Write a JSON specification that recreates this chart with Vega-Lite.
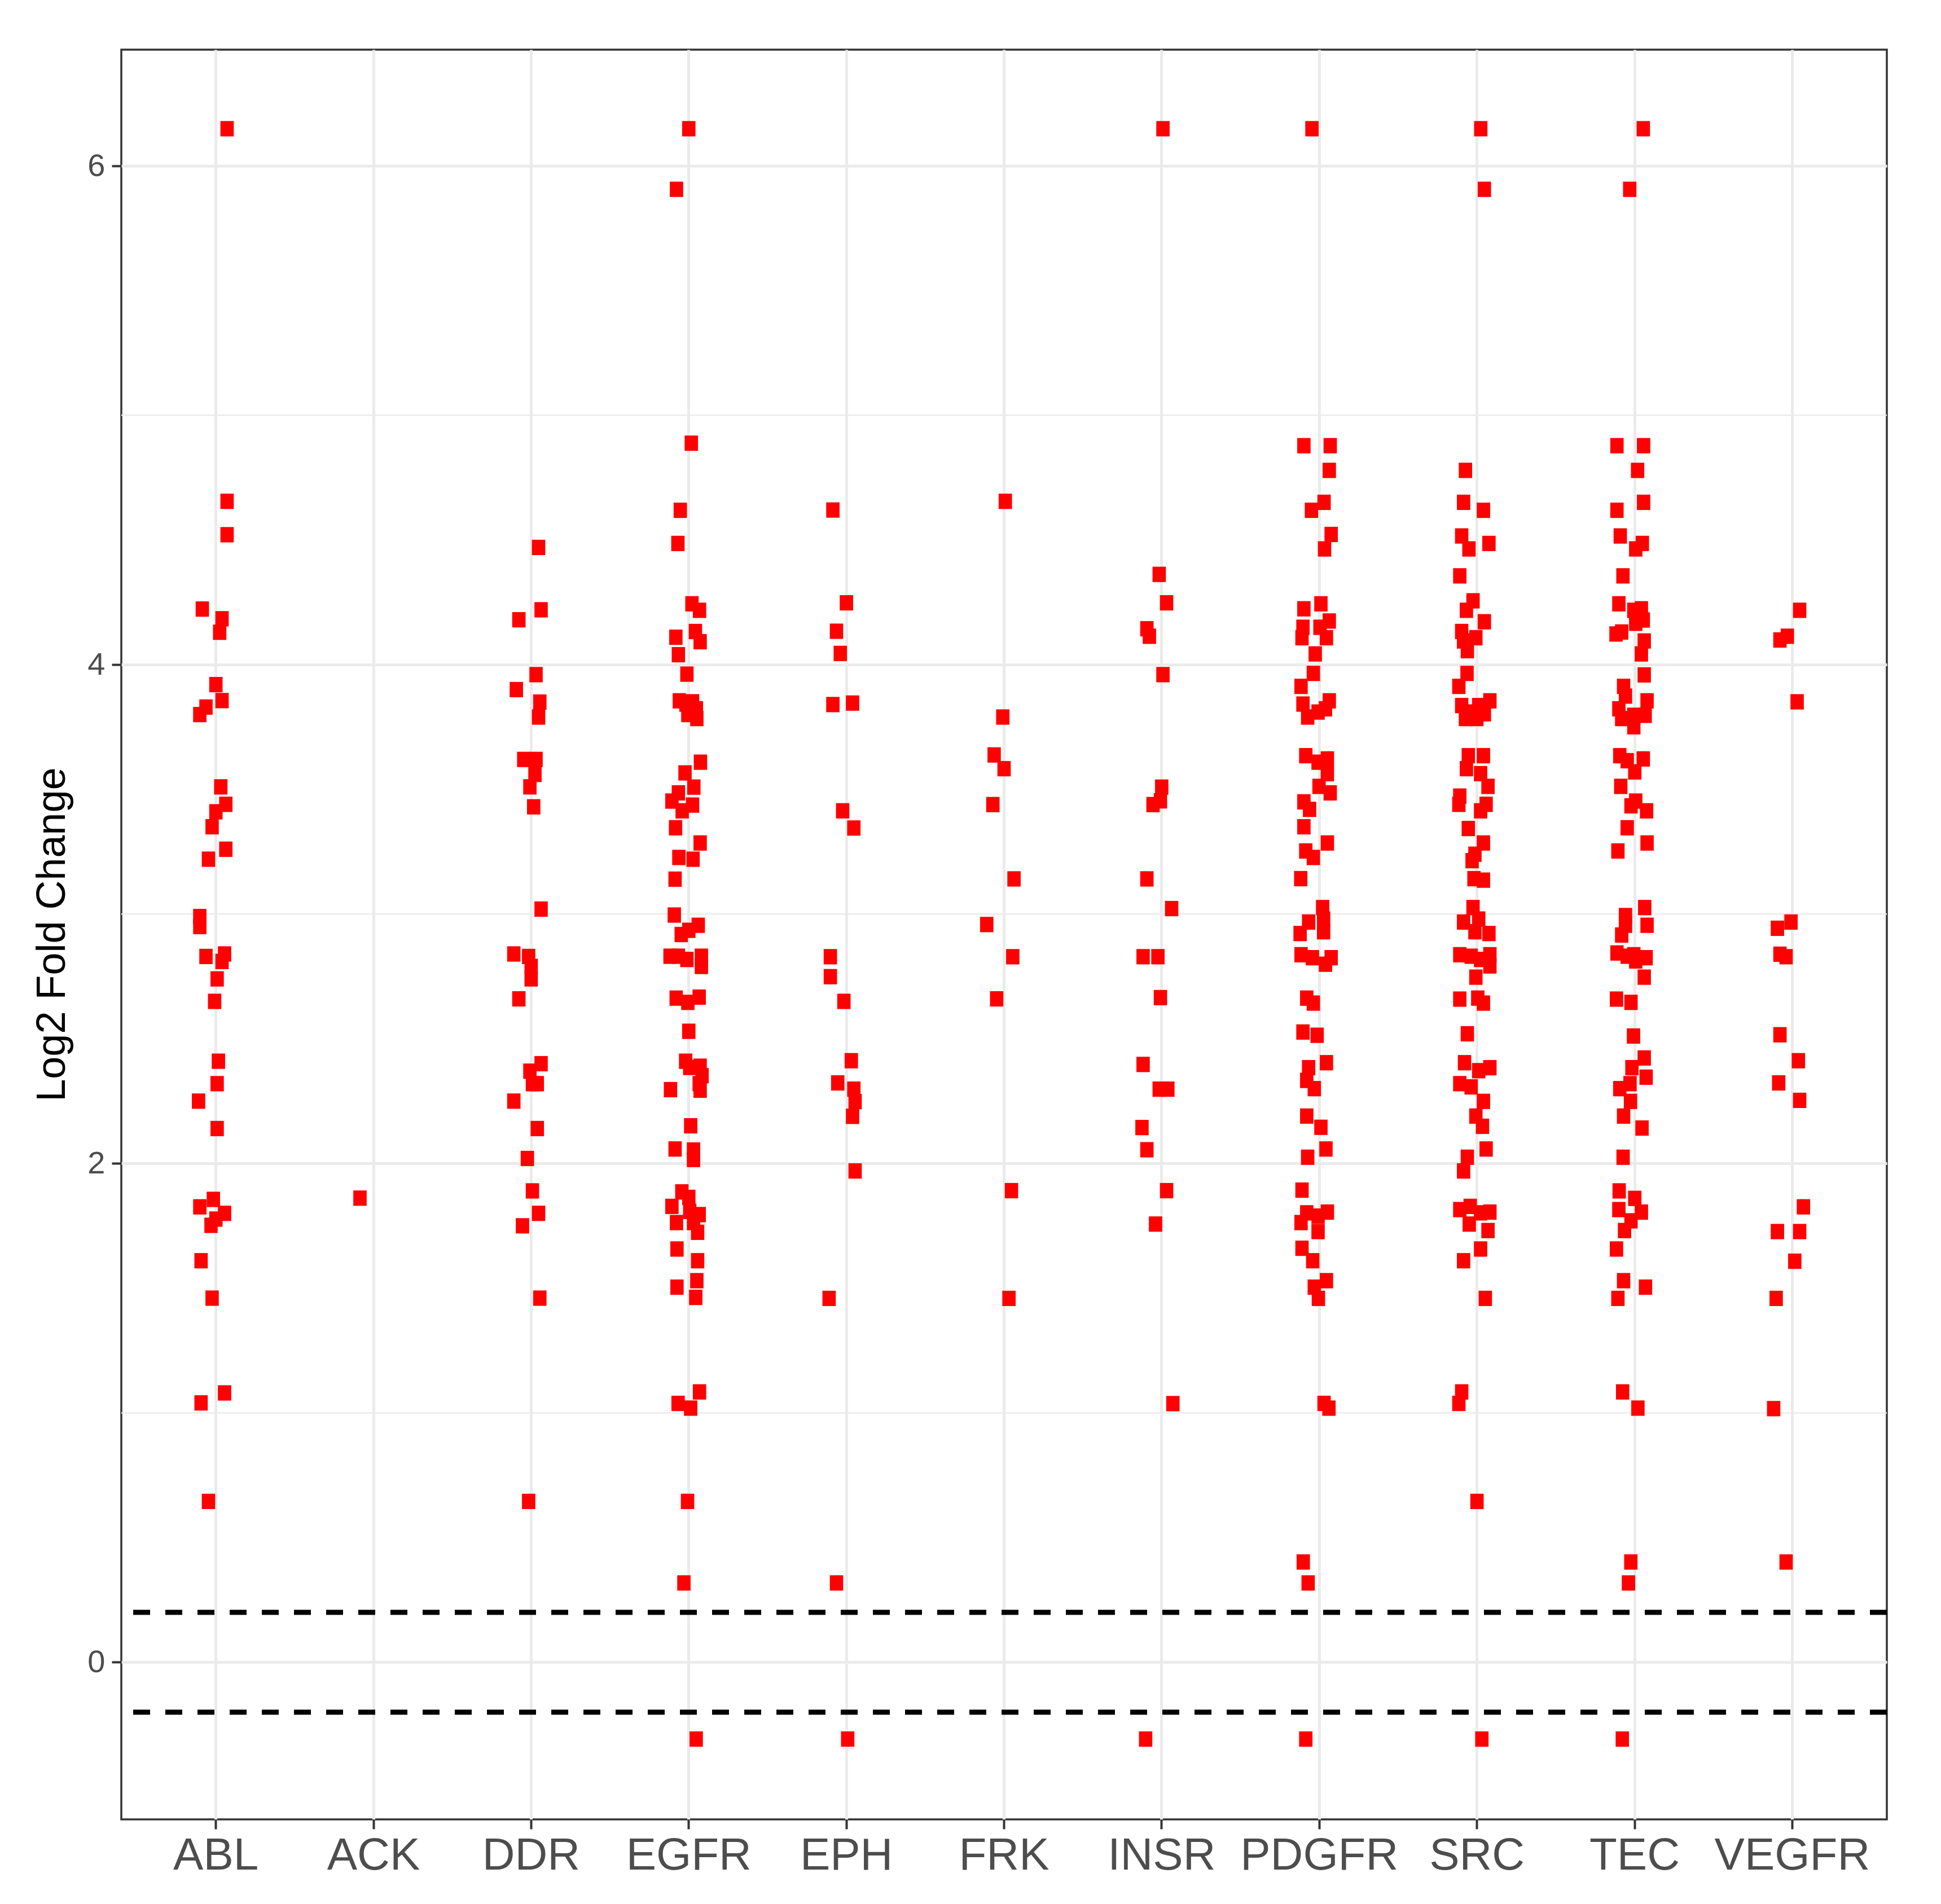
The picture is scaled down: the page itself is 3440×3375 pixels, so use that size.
{
 "$schema": "https://vega.github.io/schema/vega-lite/v6.json",
 "width": 3129, "height": 3137,
 "autosize": {"type": "none"},
 "padding": {"left": 215, "top": 88, "right": 96, "bottom": 150},
 "background": "white",
 "config": {
  "view": {"stroke": "#333333", "strokeWidth": 3.5},
  "axis": {"labelFont": "Liberation Sans", "titleFont": "Liberation Sans", "labelColor": "#4D4D4D", "tickColor": "#333333", "tickWidth": 4, "tickSize": 17, "gridColor": "#EBEBEB", "gridWidth": 5, "domain": false, "labelLimit": 0, "labelOverlap": false}
 },
 "datasets": {
  "pts": [
{"g":"ABL","v":6.149,"j":0.071},{"g":"ABL","v":4.655,"j":0.071},{"g":"ABL","v":4.521,"j":0.071},{"g":"ABL","v":4.223,"j":-0.086},{"g":"ABL","v":4.184,"j":0.039},{"g":"ABL","v":4.13,"j":0.024},{"g":"ABL","v":3.92,"j":0},{"g":"ABL","v":3.856,"j":0.039},{"g":"ABL","v":3.83,"j":-0.063},{"g":"ABL","v":3.8,"j":-0.102},{"g":"ABL","v":3.51,"j":0.031},{"g":"ABL","v":3.44,"j":0.063},{"g":"ABL","v":3.41,"j":0},{"g":"ABL","v":3.35,"j":-0.024},{"g":"ABL","v":3.26,"j":0.063},{"g":"ABL","v":3.22,"j":-0.047},{"g":"ABL","v":2.99,"j":-0.102},{"g":"ABL","v":2.95,"j":-0.102},{"g":"ABL","v":2.83,"j":-0.063},{"g":"ABL","v":2.84,"j":0.055},{"g":"ABL","v":2.81,"j":0.039},{"g":"ABL","v":2.74,"j":0.008},{"g":"ABL","v":2.65,"j":-0.008},{"g":"ABL","v":2.41,"j":0.016},{"g":"ABL","v":2.32,"j":0.008},{"g":"ABL","v":2.25,"j":-0.11},{"g":"ABL","v":2.14,"j":0.008},{"g":"ABL","v":1.826,"j":-0.102},{"g":"ABL","v":1.856,"j":-0.016},{"g":"ABL","v":1.777,"j":0},{"g":"ABL","v":1.8,"j":0.055},{"g":"ABL","v":1.752,"j":-0.031},{"g":"ABL","v":1.61,"j":-0.094},{"g":"ABL","v":1.46,"j":-0.024},{"g":"ABL","v":1.04,"j":-0.094},{"g":"ABL","v":1.08,"j":0.055},{"g":"ABL","v":0.645,"j":-0.047},
{"g":"ACK","v":1.861,"j":-0.086},
{"g":"DDR","v":4.47,"j":0.047},{"g":"DDR","v":4.22,"j":0.063},{"g":"DDR","v":4.18,"j":-0.078},{"g":"DDR","v":3.96,"j":0.031},{"g":"DDR","v":3.9,"j":-0.094},{"g":"DDR","v":3.85,"j":0.055},{"g":"DDR","v":3.79,"j":0.047},{"g":"DDR","v":3.62,"j":-0.047},{"g":"DDR","v":3.62,"j":0.031},{"g":"DDR","v":3.56,"j":0.024},{"g":"DDR","v":3.51,"j":-0.008},{"g":"DDR","v":3.43,"j":0.016},{"g":"DDR","v":3.02,"j":0.063},{"g":"DDR","v":2.84,"j":-0.11},{"g":"DDR","v":2.83,"j":-0.016},{"g":"DDR","v":2.79,"j":0},{"g":"DDR","v":2.74,"j":0},{"g":"DDR","v":2.66,"j":-0.078},{"g":"DDR","v":2.37,"j":-0.008},{"g":"DDR","v":2.4,"j":0.063},{"g":"DDR","v":2.32,"j":0.008},{"g":"DDR","v":2.32,"j":0.039},{"g":"DDR","v":2.25,"j":-0.11},{"g":"DDR","v":2.14,"j":0.039},{"g":"DDR","v":2.02,"j":-0.024},{"g":"DDR","v":1.89,"j":0.008},{"g":"DDR","v":1.8,"j":0.047},{"g":"DDR","v":1.75,"j":-0.055},{"g":"DDR","v":1.46,"j":0.055},{"g":"DDR","v":0.645,"j":-0.016},
{"g":"EGFR","v":6.149,"j":0},{"g":"EGFR","v":5.906,"j":-0.078},{"g":"EGFR","v":4.888,"j":0.016},{"g":"EGFR","v":4.619,"j":-0.054},{"g":"EGFR","v":4.486,"j":-0.069},{"g":"EGFR","v":4.244,"j":0.02},{"g":"EGFR","v":4.218,"j":0.068},{"g":"EGFR","v":4.11,"j":-0.082},{"g":"EGFR","v":4.133,"j":0.042},{"g":"EGFR","v":4.092,"j":0.072},{"g":"EGFR","v":4.04,"j":-0.066},{"g":"EGFR","v":3.962,"j":-0.012},{"g":"EGFR","v":3.855,"j":-0.06},{"g":"EGFR","v":3.842,"j":-0.018},{"g":"EGFR","v":3.851,"j":0.024},{"g":"EGFR","v":3.823,"j":0.048},{"g":"EGFR","v":3.8,"j":-0.006},{"g":"EGFR","v":3.784,"j":0.051},{"g":"EGFR","v":3.609,"j":0.074},{"g":"EGFR","v":3.566,"j":-0.024},{"g":"EGFR","v":3.509,"j":0.032},{"g":"EGFR","v":3.486,"j":-0.066},{"g":"EGFR","v":3.453,"j":-0.107},{"g":"EGFR","v":3.437,"j":0.024},{"g":"EGFR","v":3.414,"j":-0.042},{"g":"EGFR","v":3.346,"j":-0.084},{"g":"EGFR","v":3.285,"j":0.072},{"g":"EGFR","v":3.227,"j":-0.063},{"g":"EGFR","v":3.22,"j":0.027},{"g":"EGFR","v":3.14,"j":-0.087},{"g":"EGFR","v":2.996,"j":-0.092},{"g":"EGFR","v":2.955,"j":0.06},{"g":"EGFR","v":2.935,"j":0},{"g":"EGFR","v":2.918,"j":-0.048},{"g":"EGFR","v":2.831,"j":-0.119},{"g":"EGFR","v":2.831,"j":-0.066},{"g":"EGFR","v":2.818,"j":-0.012},{"g":"EGFR","v":2.831,"j":0.08},{"g":"EGFR","v":2.79,"j":0.08},{"g":"EGFR","v":2.663,"j":-0.08},{"g":"EGFR","v":2.646,"j":-0.006},{"g":"EGFR","v":2.667,"j":0.066},{"g":"EGFR","v":2.53,"j":0},{"g":"EGFR","v":2.41,"j":-0.02},{"g":"EGFR","v":2.385,"j":0.006},{"g":"EGFR","v":2.39,"j":0.072},{"g":"EGFR","v":2.352,"j":0.084},{"g":"EGFR","v":2.32,"j":0.066},{"g":"EGFR","v":2.294,"j":0.072},{"g":"EGFR","v":2.296,"j":-0.116},{"g":"EGFR","v":2.151,"j":0.012},{"g":"EGFR","v":2.058,"j":-0.087},{"g":"EGFR","v":2.054,"j":0.03},{"g":"EGFR","v":2.016,"j":0.03},{"g":"EGFR","v":1.886,"j":-0.044},{"g":"EGFR","v":1.864,"j":0},{"g":"EGFR","v":1.828,"j":-0.107},{"g":"EGFR","v":1.763,"j":-0.078},{"g":"EGFR","v":1.808,"j":0.006},{"g":"EGFR","v":1.795,"j":0.066},{"g":"EGFR","v":1.763,"j":0.03},{"g":"EGFR","v":1.724,"j":0.056},{"g":"EGFR","v":1.657,"j":-0.075},{"g":"EGFR","v":1.61,"j":0.056},{"g":"EGFR","v":1.504,"j":-0.075},{"g":"EGFR","v":1.53,"j":0.051},{"g":"EGFR","v":1.463,"j":0.044},{"g":"EGFR","v":1.038,"j":-0.068},{"g":"EGFR","v":1.019,"j":0.012},{"g":"EGFR","v":1.084,"j":0.068},{"g":"EGFR","v":0.645,"j":-0.008},{"g":"EGFR","v":0.318,"j":-0.031},{"g":"EGFR","v":-0.308,"j":0.047},
{"g":"EPH","v":4.62,"j":-0.086},{"g":"EPH","v":4.248,"j":0},{"g":"EPH","v":4.134,"j":-0.063},{"g":"EPH","v":4.045,"j":-0.039},{"g":"EPH","v":3.84,"j":-0.086},{"g":"EPH","v":3.846,"j":0.039},{"g":"EPH","v":3.414,"j":-0.024},{"g":"EPH","v":3.345,"j":0.047},{"g":"EPH","v":2.829,"j":-0.102},{"g":"EPH","v":2.749,"j":-0.102},{"g":"EPH","v":2.65,"j":-0.016},{"g":"EPH","v":2.412,"j":0.031},{"g":"EPH","v":2.323,"j":-0.055},{"g":"EPH","v":2.298,"j":0.047},{"g":"EPH","v":2.248,"j":0.055},{"g":"EPH","v":2.189,"j":0.039},{"g":"EPH","v":1.97,"j":0.055},{"g":"EPH","v":1.459,"j":-0.11},{"g":"EPH","v":0.318,"j":-0.063},{"g":"EPH","v":-0.308,"j":0.008},
{"g":"FRK","v":4.655,"j":0.008},{"g":"FRK","v":3.79,"j":-0.008},{"g":"FRK","v":3.638,"j":-0.063},{"g":"FRK","v":3.583,"j":0},{"g":"FRK","v":3.439,"j":-0.071},{"g":"FRK","v":3.141,"j":0.063},{"g":"FRK","v":2.958,"j":-0.11},{"g":"FRK","v":2.829,"j":0.055},{"g":"FRK","v":2.66,"j":-0.047},{"g":"FRK","v":1.891,"j":0.047},{"g":"FRK","v":1.459,"j":0.031},
{"g":"INSR","v":6.149,"j":0.008},{"g":"INSR","v":4.362,"j":-0.016},{"g":"INSR","v":4.248,"j":0.031},{"g":"INSR","v":4.144,"j":-0.094},{"g":"INSR","v":4.114,"j":-0.078},{"g":"INSR","v":3.96,"j":0.008},{"g":"INSR","v":3.509,"j":0},{"g":"INSR","v":3.454,"j":-0.008},{"g":"INSR","v":3.439,"j":-0.055},{"g":"INSR","v":3.141,"j":-0.094},{"g":"INSR","v":3.022,"j":0.063},{"g":"INSR","v":2.829,"j":-0.118},{"g":"INSR","v":2.829,"j":-0.024},{"g":"INSR","v":2.665,"j":-0.008},{"g":"INSR","v":2.397,"j":-0.118},{"g":"INSR","v":2.298,"j":-0.016},{"g":"INSR","v":2.298,"j":0.039},{"g":"INSR","v":2.144,"j":-0.125},{"g":"INSR","v":2.055,"j":-0.094},{"g":"INSR","v":1.891,"j":0.031},{"g":"INSR","v":1.757,"j":-0.039},{"g":"INSR","v":1.037,"j":0.071},{"g":"INSR","v":-0.308,"j":-0.102},
{"g":"PDGFR","v":6.149,"j":-0.047},{"g":"PDGFR","v":4.878,"j":-0.098},{"g":"PDGFR","v":4.878,"j":0.069},{"g":"PDGFR","v":4.779,"j":0.063},{"g":"PDGFR","v":4.651,"j":0.03},{"g":"PDGFR","v":4.619,"j":-0.05},{"g":"PDGFR","v":4.522,"j":0.075},{"g":"PDGFR","v":4.464,"j":0.033},{"g":"PDGFR","v":4.224,"j":-0.098},{"g":"PDGFR","v":4.244,"j":0.01},{"g":"PDGFR","v":4.15,"j":-0.104},{"g":"PDGFR","v":4.108,"j":-0.11},{"g":"PDGFR","v":4.175,"j":0.063},{"g":"PDGFR","v":4.15,"j":0.004},{"g":"PDGFR","v":4.108,"j":0.045},{"g":"PDGFR","v":4.043,"j":-0.026},{"g":"PDGFR","v":3.965,"j":-0.038},{"g":"PDGFR","v":3.913,"j":-0.116},{"g":"PDGFR","v":3.842,"j":-0.104},{"g":"PDGFR","v":3.79,"j":-0.074},{"g":"PDGFR","v":3.81,"j":-0.008},{"g":"PDGFR","v":3.855,"j":0.063},{"g":"PDGFR","v":3.823,"j":0.039},{"g":"PDGFR","v":3.635,"j":-0.086},{"g":"PDGFR","v":3.609,"j":-0.008},{"g":"PDGFR","v":3.622,"j":0.051},{"g":"PDGFR","v":3.563,"j":0.051},{"g":"PDGFR","v":3.512,"j":-0.002},{"g":"PDGFR","v":3.486,"j":0.069},{"g":"PDGFR","v":3.45,"j":-0.098},{"g":"PDGFR","v":3.42,"j":-0.062},{"g":"PDGFR","v":3.35,"j":-0.098},{"g":"PDGFR","v":3.285,"j":0.051},{"g":"PDGFR","v":3.253,"j":-0.086},{"g":"PDGFR","v":3.227,"j":-0.038},{"g":"PDGFR","v":3.142,"j":-0.118},{"g":"PDGFR","v":3.026,"j":0.021},{"g":"PDGFR","v":2.98,"j":0.027},{"g":"PDGFR","v":2.968,"j":-0.068},{"g":"PDGFR","v":2.922,"j":-0.122},{"g":"PDGFR","v":2.929,"j":0.027},{"g":"PDGFR","v":2.837,"j":-0.116},{"g":"PDGFR","v":2.825,"j":-0.044},{"g":"PDGFR","v":2.799,"j":0.039},{"g":"PDGFR","v":2.825,"j":0.075},{"g":"PDGFR","v":2.663,"j":-0.08},{"g":"PDGFR","v":2.643,"j":-0.038},{"g":"PDGFR","v":2.527,"j":-0.104},{"g":"PDGFR","v":2.514,"j":-0.014},{"g":"PDGFR","v":2.384,"j":-0.068},{"g":"PDGFR","v":2.404,"j":0.045},{"g":"PDGFR","v":2.333,"j":-0.08},{"g":"PDGFR","v":2.3,"j":-0.032},{"g":"PDGFR","v":2.19,"j":-0.08},{"g":"PDGFR","v":2.145,"j":0.01},{"g":"PDGFR","v":2.058,"j":0.042},{"g":"PDGFR","v":2.025,"j":-0.074},{"g":"PDGFR","v":1.893,"j":-0.11},{"g":"PDGFR","v":1.802,"j":-0.08},{"g":"PDGFR","v":1.763,"j":-0.116},{"g":"PDGFR","v":1.789,"j":-0.008},{"g":"PDGFR","v":1.805,"j":0.051},{"g":"PDGFR","v":1.727,"j":-0.008},{"g":"PDGFR","v":1.66,"j":-0.11},{"g":"PDGFR","v":1.61,"j":-0.042},{"g":"PDGFR","v":1.53,"j":0.045},{"g":"PDGFR","v":1.504,"j":-0.032},{"g":"PDGFR","v":1.459,"j":-0.006},{"g":"PDGFR","v":1.038,"j":0.03},{"g":"PDGFR","v":1.019,"j":0.061},{"g":"PDGFR","v":0.402,"j":-0.102},{"g":"PDGFR","v":0.318,"j":-0.071},{"g":"PDGFR","v":-0.308,"j":-0.086},
{"g":"SRC","v":6.149,"j":0.024},{"g":"SRC","v":5.906,"j":0.047},{"g":"SRC","v":4.779,"j":-0.073},{"g":"SRC","v":4.651,"j":-0.085},{"g":"SRC","v":4.619,"j":0.041},{"g":"SRC","v":4.516,"j":-0.097},{"g":"SRC","v":4.464,"j":-0.051},{"g":"SRC","v":4.486,"j":0.076},{"g":"SRC","v":4.356,"j":-0.109},{"g":"SRC","v":4.256,"j":-0.025},{"g":"SRC","v":4.218,"j":-0.067},{"g":"SRC","v":4.172,"j":0.047},{"g":"SRC","v":4.133,"j":-0.097},{"g":"SRC","v":4.108,"j":-0.007},{"g":"SRC","v":4.056,"j":-0.061},{"g":"SRC","v":4.095,"j":-0.085},{"g":"SRC","v":3.965,"j":-0.063},{"g":"SRC","v":3.913,"j":-0.115},{"g":"SRC","v":3.836,"j":-0.097},{"g":"SRC","v":3.81,"j":-0.037},{"g":"SRC","v":3.836,"j":0.011},{"g":"SRC","v":3.855,"j":0.082},{"g":"SRC","v":3.784,"j":-0.073},{"g":"SRC","v":3.803,"j":0.047},{"g":"SRC","v":3.784,"j":-0.001},{"g":"SRC","v":3.635,"j":-0.055},{"g":"SRC","v":3.635,"j":0.041},{"g":"SRC","v":3.583,"j":-0.067},{"g":"SRC","v":3.563,"j":0.023},{"g":"SRC","v":3.512,"j":0.07},{"g":"SRC","v":3.473,"j":-0.109},{"g":"SRC","v":3.44,"j":-0.115},{"g":"SRC","v":3.44,"j":0.058},{"g":"SRC","v":3.414,"j":0.023},{"g":"SRC","v":3.343,"j":-0.055},{"g":"SRC","v":3.285,"j":0.041},{"g":"SRC","v":3.24,"j":-0.013},{"g":"SRC","v":3.214,"j":-0.031},{"g":"SRC","v":3.142,"j":-0.019},{"g":"SRC","v":3.136,"j":0.041},{"g":"SRC","v":3.026,"j":-0.025},{"g":"SRC","v":2.968,"j":-0.085},{"g":"SRC","v":2.98,"j":0.011},{"g":"SRC","v":2.922,"j":0.076},{"g":"SRC","v":2.929,"j":-0.013},{"g":"SRC","v":2.837,"j":-0.109},{"g":"SRC","v":2.831,"j":-0.037},{"g":"SRC","v":2.818,"j":0.023},{"g":"SRC","v":2.837,"j":0.082},{"g":"SRC","v":2.792,"j":0.082},{"g":"SRC","v":2.747,"j":-0.007},{"g":"SRC","v":2.659,"j":-0.109},{"g":"SRC","v":2.663,"j":0.005},{"g":"SRC","v":2.643,"j":0.041},{"g":"SRC","v":2.52,"j":-0.061},{"g":"SRC","v":2.404,"j":-0.079},{"g":"SRC","v":2.384,"j":0.082},{"g":"SRC","v":2.372,"j":0.011},{"g":"SRC","v":2.32,"j":-0.109},{"g":"SRC","v":2.307,"j":-0.037},{"g":"SRC","v":2.249,"j":0.041},{"g":"SRC","v":2.19,"j":-0.007},{"g":"SRC","v":2.149,"j":0.035},{"g":"SRC","v":2.058,"j":0.058},{"g":"SRC","v":2.025,"j":-0.061},{"g":"SRC","v":1.97,"j":-0.085},{"g":"SRC","v":1.815,"j":-0.109},{"g":"SRC","v":1.828,"j":-0.043},{"g":"SRC","v":1.757,"j":-0.049},{"g":"SRC","v":1.802,"j":0.023},{"g":"SRC","v":1.805,"j":0.082},{"g":"SRC","v":1.731,"j":0.07},{"g":"SRC","v":1.657,"j":0.023},{"g":"SRC","v":1.61,"j":-0.085},{"g":"SRC","v":1.459,"j":0.053},{"g":"SRC","v":1.084,"j":-0.097},{"g":"SRC","v":1.038,"j":-0.115},{"g":"SRC","v":0.645,"j":0},{"g":"SRC","v":-0.308,"j":0.031},
{"g":"TEC","v":6.149,"j":0.055},{"g":"TEC","v":5.906,"j":-0.031},{"g":"TEC","v":4.878,"j":-0.112},{"g":"TEC","v":4.878,"j":0.057},{"g":"TEC","v":4.779,"j":0.019},{"g":"TEC","v":4.651,"j":0.057},{"g":"TEC","v":4.619,"j":-0.112},{"g":"TEC","v":4.516,"j":-0.091},{"g":"TEC","v":4.486,"j":0.049},{"g":"TEC","v":4.464,"j":0.007},{"g":"TEC","v":4.356,"j":-0.074},{"g":"TEC","v":4.244,"j":-0.1},{"g":"TEC","v":4.218,"j":-0.005},{"g":"TEC","v":4.224,"j":0.043},{"g":"TEC","v":4.179,"j":0.055},{"g":"TEC","v":4.166,"j":0.007},{"g":"TEC","v":4.123,"j":-0.118},{"g":"TEC","v":4.131,"j":-0.082},{"g":"TEC","v":4.095,"j":0.061},{"g":"TEC","v":4.043,"j":0.043},{"g":"TEC","v":3.959,"j":0.061},{"g":"TEC","v":3.913,"j":-0.07},{"g":"TEC","v":3.874,"j":-0.058},{"g":"TEC","v":3.823,"j":-0.1},{"g":"TEC","v":3.784,"j":-0.082},{"g":"TEC","v":3.797,"j":-0.005},{"g":"TEC","v":3.751,"j":-0.005},{"g":"TEC","v":3.855,"j":0.079},{"g":"TEC","v":3.797,"j":0.067},{"g":"TEC","v":3.635,"j":-0.094},{"g":"TEC","v":3.615,"j":-0.047},{"g":"TEC","v":3.57,"j":0.001},{"g":"TEC","v":3.622,"j":0.055},{"g":"TEC","v":3.512,"j":-0.088},{"g":"TEC","v":3.453,"j":0.007},{"g":"TEC","v":3.434,"j":-0.023},{"g":"TEC","v":3.414,"j":0.076},{"g":"TEC","v":3.346,"j":-0.047},{"g":"TEC","v":3.285,"j":0.079},{"g":"TEC","v":3.253,"j":-0.106},{"g":"TEC","v":2.994,"j":-0.058},{"g":"TEC","v":2.955,"j":-0.058},{"g":"TEC","v":2.916,"j":-0.082},{"g":"TEC","v":3.026,"j":0.064},{"g":"TEC","v":2.955,"j":0.079},{"g":"TEC","v":2.844,"j":-0.112},{"g":"TEC","v":2.831,"j":-0.047},{"g":"TEC","v":2.812,"j":0.007},{"g":"TEC","v":2.825,"j":0.073},{"g":"TEC","v":2.837,"j":-0.005},{"g":"TEC","v":2.747,"j":0.061},{"g":"TEC","v":2.659,"j":-0.115},{"g":"TEC","v":2.646,"j":-0.023},{"g":"TEC","v":2.511,"j":-0.007},{"g":"TEC","v":2.423,"j":0.061},{"g":"TEC","v":2.384,"j":-0.017},{"g":"TEC","v":2.346,"j":0.073},{"g":"TEC","v":2.32,"j":-0.029},{"g":"TEC","v":2.3,"j":-0.094},{"g":"TEC","v":2.249,"j":-0.026},{"g":"TEC","v":2.19,"j":-0.07},{"g":"TEC","v":2.142,"j":0.047},{"g":"TEC","v":2.025,"j":-0.073},{"g":"TEC","v":1.89,"j":-0.098},{"g":"TEC","v":1.86,"j":0.001},{"g":"TEC","v":1.815,"j":-0.1},{"g":"TEC","v":1.805,"j":0.043},{"g":"TEC","v":1.731,"j":-0.064},{"g":"TEC","v":1.77,"j":-0.023},{"g":"TEC","v":1.657,"j":-0.115},{"g":"TEC","v":1.53,"j":-0.07},{"g":"TEC","v":1.504,"j":0.069},{"g":"TEC","v":1.459,"j":-0.106},{"g":"TEC","v":1.084,"j":-0.076},{"g":"TEC","v":1.019,"j":0.021},{"g":"TEC","v":0.402,"j":-0.024},{"g":"TEC","v":0.318,"j":-0.039},{"g":"TEC","v":-0.308,"j":-0.078},
{"g":"VEGFR","v":4.218,"j":0.047},{"g":"VEGFR","v":4.099,"j":-0.078},{"g":"VEGFR","v":4.114,"j":-0.031},{"g":"VEGFR","v":3.851,"j":0.031},{"g":"VEGFR","v":2.943,"j":-0.094},{"g":"VEGFR","v":2.968,"j":-0.008},{"g":"VEGFR","v":2.839,"j":-0.078},{"g":"VEGFR","v":2.829,"j":-0.039},{"g":"VEGFR","v":2.516,"j":-0.078},{"g":"VEGFR","v":2.412,"j":0.039},{"g":"VEGFR","v":2.323,"j":-0.086},{"g":"VEGFR","v":2.253,"j":0.047},{"g":"VEGFR","v":1.826,"j":0.071},{"g":"VEGFR","v":1.727,"j":-0.094},{"g":"VEGFR","v":1.727,"j":0.047},{"g":"VEGFR","v":1.608,"j":0.016},{"g":"VEGFR","v":1.459,"j":-0.102},{"g":"VEGFR","v":1.017,"j":-0.118},{"g":"VEGFR","v":0.402,"j":-0.039}
  ],
  "minor": [{"m": 1}, {"m": 3}, {"m": 5}],
  "hl": [{"h": 0.2}, {"h": -0.2}]
 },
 "layer": [
  {
   "data": {"name": "minor"},
   "mark": {"type": "rule", "color": "#EBEBEB", "strokeWidth": 2.5},
   "encoding": {"y": {"field": "m", "type": "quantitative", "scale": {"domain": [-0.63, 6.466], "nice": false, "zero": false}}}
  },
  {
   "data": {"name": "pts"},
   "mark": {"type": "point", "filled": true, "shape": "M-1,-1.15H1V1.15H-1Z", "size": 560, "color": "#FF0000", "opacity": 1, "strokeWidth": 0},
   "encoding": {
    "x": {"field": "g", "type": "nominal", "sort": ["ABL","ACK","DDR","EGFR","EPH","FRK","INSR","PDGFR","SRC","TEC","VEGFR"],
      "scale": {"type": "band", "paddingInner": 0, "paddingOuter": 0.1},
      "axis": {"title": null, "labelFontSize": 80, "labelPadding": 8, "labelAngle": 0, "grid": true, "bandPosition": 0.5}},
    "xOffset": {"field": "j", "type": "quantitative", "scale": {"domain": [-0.5, 0.5], "nice": false, "zero": false}},
    "y": {"field": "v", "type": "quantitative", "scale": {"domain": [-0.63, 6.466], "nice": false, "zero": false},
      "axis": {"title": "Log2 Fold Change", "values": [0, 2, 4, 6], "format": "d", "labelFontSize": 56, "labelPadding": 12, "titleFontSize": 72, "titleFontWeight": "normal", "titleColor": "#000000", "titleX": -101, "titleY": 1568, "titleAngle": -90, "titleAlign": "center", "titleBaseline": "alphabetic", "grid": true}}
   }
  },
  {
   "data": {"name": "hl"},
   "mark": {"type": "rule", "color": "#000000", "strokeWidth": 9, "strokeDash": [30, 27]},
   "encoding": {"y": {"field": "h", "type": "quantitative"}}
  }
 ]
}
